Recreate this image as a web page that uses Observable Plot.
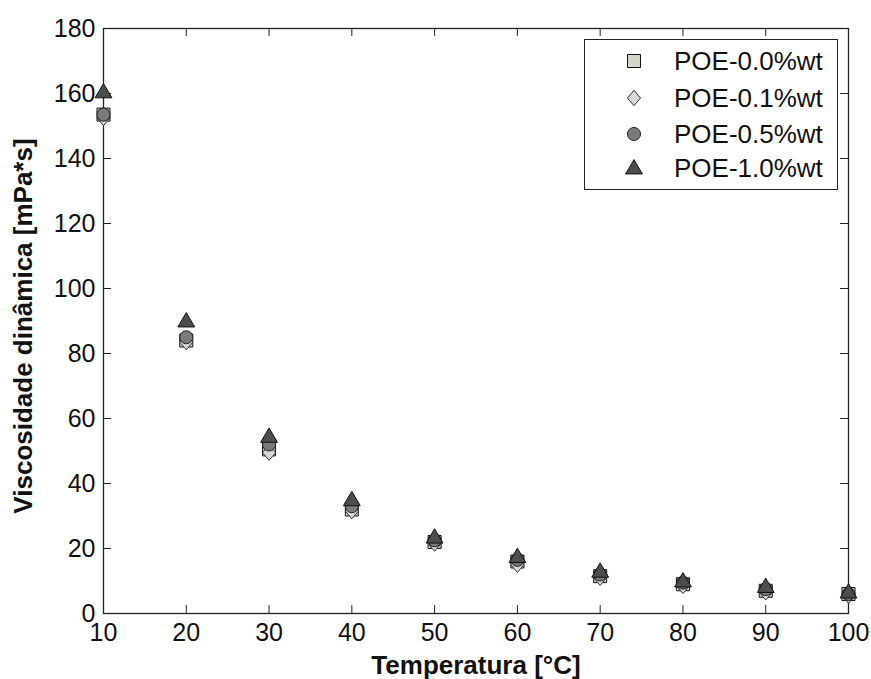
<!DOCTYPE html>
<html><head><meta charset="utf-8">
<script src="https://cdn.jsdelivr.net/npm/d3@7"></script>
<script src="https://cdn.jsdelivr.net/npm/@observablehq/plot@0.6"></script>
<style>
html,body{margin:0;padding:0;background:#fff;overflow:hidden;}
#wrap{position:relative;width:871px;height:679px;font-family:"Liberation Sans",Arial,sans-serif;}
#legend{position:absolute;left:584px;top:39px;width:252px;height:149px;border:1.5px solid #222;background:#fff;}
#legend svg{position:absolute;left:0;top:0;}
</style></head><body><div id="wrap"><div id="legend"></div></div>
<script>
// ---- data ----
const temps = [10, 20, 30, 40, 50, 60, 70, 80, 90, 100];
const seriesNames = ["POE-0.0%wt", "POE-0.1%wt", "POE-0.5%wt", "POE-1.0%wt"];
const poe00 = [153.5, 84.0, 50.5, 32.0, 22.0, 16.0, 11.5, 9.0, 7.0, 6.0];
const poe01 = [152.5, 83.5, 49.5, 31.5, 21.5, 15.0, 11.0, 8.5, 6.5, 5.5];
const poe05 = [153.5, 85.0, 52.0, 33.0, 22.5, 16.5, 12.0, 9.5, 7.5, 6.0];
const poe10 = [160.5, 90.0, 54.5, 35.0, 23.5, 17.5, 13.0, 10.0, 8.3, 6.6];
const xTicks = [10, 20, 30, 40, 50, 60, 70, 80, 90, 100];
const yTicks = [0, 20, 40, 60, 80, 100, 120, 140, 160, 180];
const xTitle = "Temperatura [°C]";
const yTitle = "Viscosidade dinâmica [mPa*s]";

// ---- layout ----
const W = 871, H = 679, mL = 103, mR = 23, mT = 28, mB = 66;
const fw = W - mL - mR, fh = H - mT - mB, tick = 8;

// ---- marker shapes (MATLAB-like) ----
const R = s => Math.sqrt(s / Math.PI);
const symSquare = {draw(c, s){const r = R(s)*0.93; c.moveTo(-r,-r); c.lineTo(r,-r); c.lineTo(r,r); c.lineTo(-r,r); c.closePath();}};
const symDiamond = {draw(c, s){const r = R(s)*1.1; c.moveTo(0,-r); c.lineTo(r*0.85,0); c.lineTo(0,r); c.lineTo(-r*0.85,0); c.closePath();}};
const symCircle = {draw(c, s){const r = R(s)*0.93; c.moveTo(r,0); c.arc(0,0,r,0,2*Math.PI);}};
const symTriangle = {draw(c, s){const r = R(s); c.moveTo(0,-1.2*r); c.lineTo(1.2*r,0.85*r); c.lineTo(-1.2*r,0.85*r); c.closePath();}};

const seriesValues = [poe00, poe01, poe05, poe10];
const styles = [
  {symbol: symSquare, fill: "#d4d4c8", stroke: "#111"},
  {symbol: symDiamond, fill: "#d8d8d8", stroke: "#333"},
  {symbol: symCircle, fill: "#7a7a7a", stroke: "#222"},
  {symbol: symTriangle, fill: "#4d4d4d", stroke: "#111"}
];
const tables = seriesValues.map((vals, i) => temps.map((t, j) => ({t, v: vals[j], s: seriesNames[i]})));

const font = "Liberation Sans, Arial, sans-serif";
const chart = Plot.plot({
  width: W, height: H,
  marginLeft: mL, marginRight: mR, marginTop: mT, marginBottom: mB,
  style: {fontFamily: font, fontSize: "25px", color: "#111", background: "#fff"},
  x: {domain: [10, 100]},
  y: {domain: [0, 180]},
  marks: [
    // inward ticks on all four sides (MATLAB box style)
    Plot.tickX(xTicks, {x: d => d, insetTop: fh - tick, stroke: "#222"}),
    Plot.tickX(xTicks, {x: d => d, insetBottom: fh - tick, stroke: "#222"}),
    Plot.tickY(yTicks, {y: d => d, insetRight: fw - tick, stroke: "#222"}),
    Plot.tickY(yTicks, {y: d => d, insetLeft: fw - tick, stroke: "#222"}),
    Plot.axisX(xTicks, {anchor: "bottom", tickSize: 0, tickPadding: 10, label: null, fontSize: 25, fill: "#111"}),
    Plot.axisY(yTicks, {anchor: "left", tickSize: 0, tickPadding: 8, label: null, fontSize: 25, fill: "#111"}),
    Plot.frame({stroke: "#222", strokeWidth: 1.3}),
    ...tables.map((tb, i) => Plot.dot(tb, {x: "t", y: "v", r: 7, symbol: styles[i].symbol, fill: styles[i].fill, stroke: styles[i].stroke, strokeWidth: 1})),
    Plot.text([xTitle], {text: d => d, frameAnchor: "bottom", lineAnchor: "middle", textAnchor: "middle", dy: 52, fontWeight: "bold", fontSize: 26, fill: "#111"}),
    Plot.text([yTitle], {text: d => d, frameAnchor: "left", lineAnchor: "middle", textAnchor: "middle", rotate: -90, dx: -80, dy: 5, fontWeight: "bold", fontSize: 26, fill: "#111"})
  ]
});
document.getElementById("wrap").insertBefore(chart, document.getElementById("legend"));

// ---- legend ----
const lg = d3.select("#legend").append("svg").attr("width", 252).attr("height", 149);
const rowY = [21, 58, 94, 128];
seriesNames.forEach((name, i) => {
  lg.append("path")
    .attr("d", d3.symbol(styles[i].symbol, Math.PI * 49)())
    .attr("transform", `translate(49,${rowY[i]})`)
    .attr("fill", styles[i].fill).attr("stroke", styles[i].stroke);
  lg.append("text").attr("x", 89).attr("y", rowY[i]).attr("dy", "0.35em")
    .attr("font-family", font).attr("font-size", 26).attr("fill", "#111").text(name);
});
</script></body></html>
